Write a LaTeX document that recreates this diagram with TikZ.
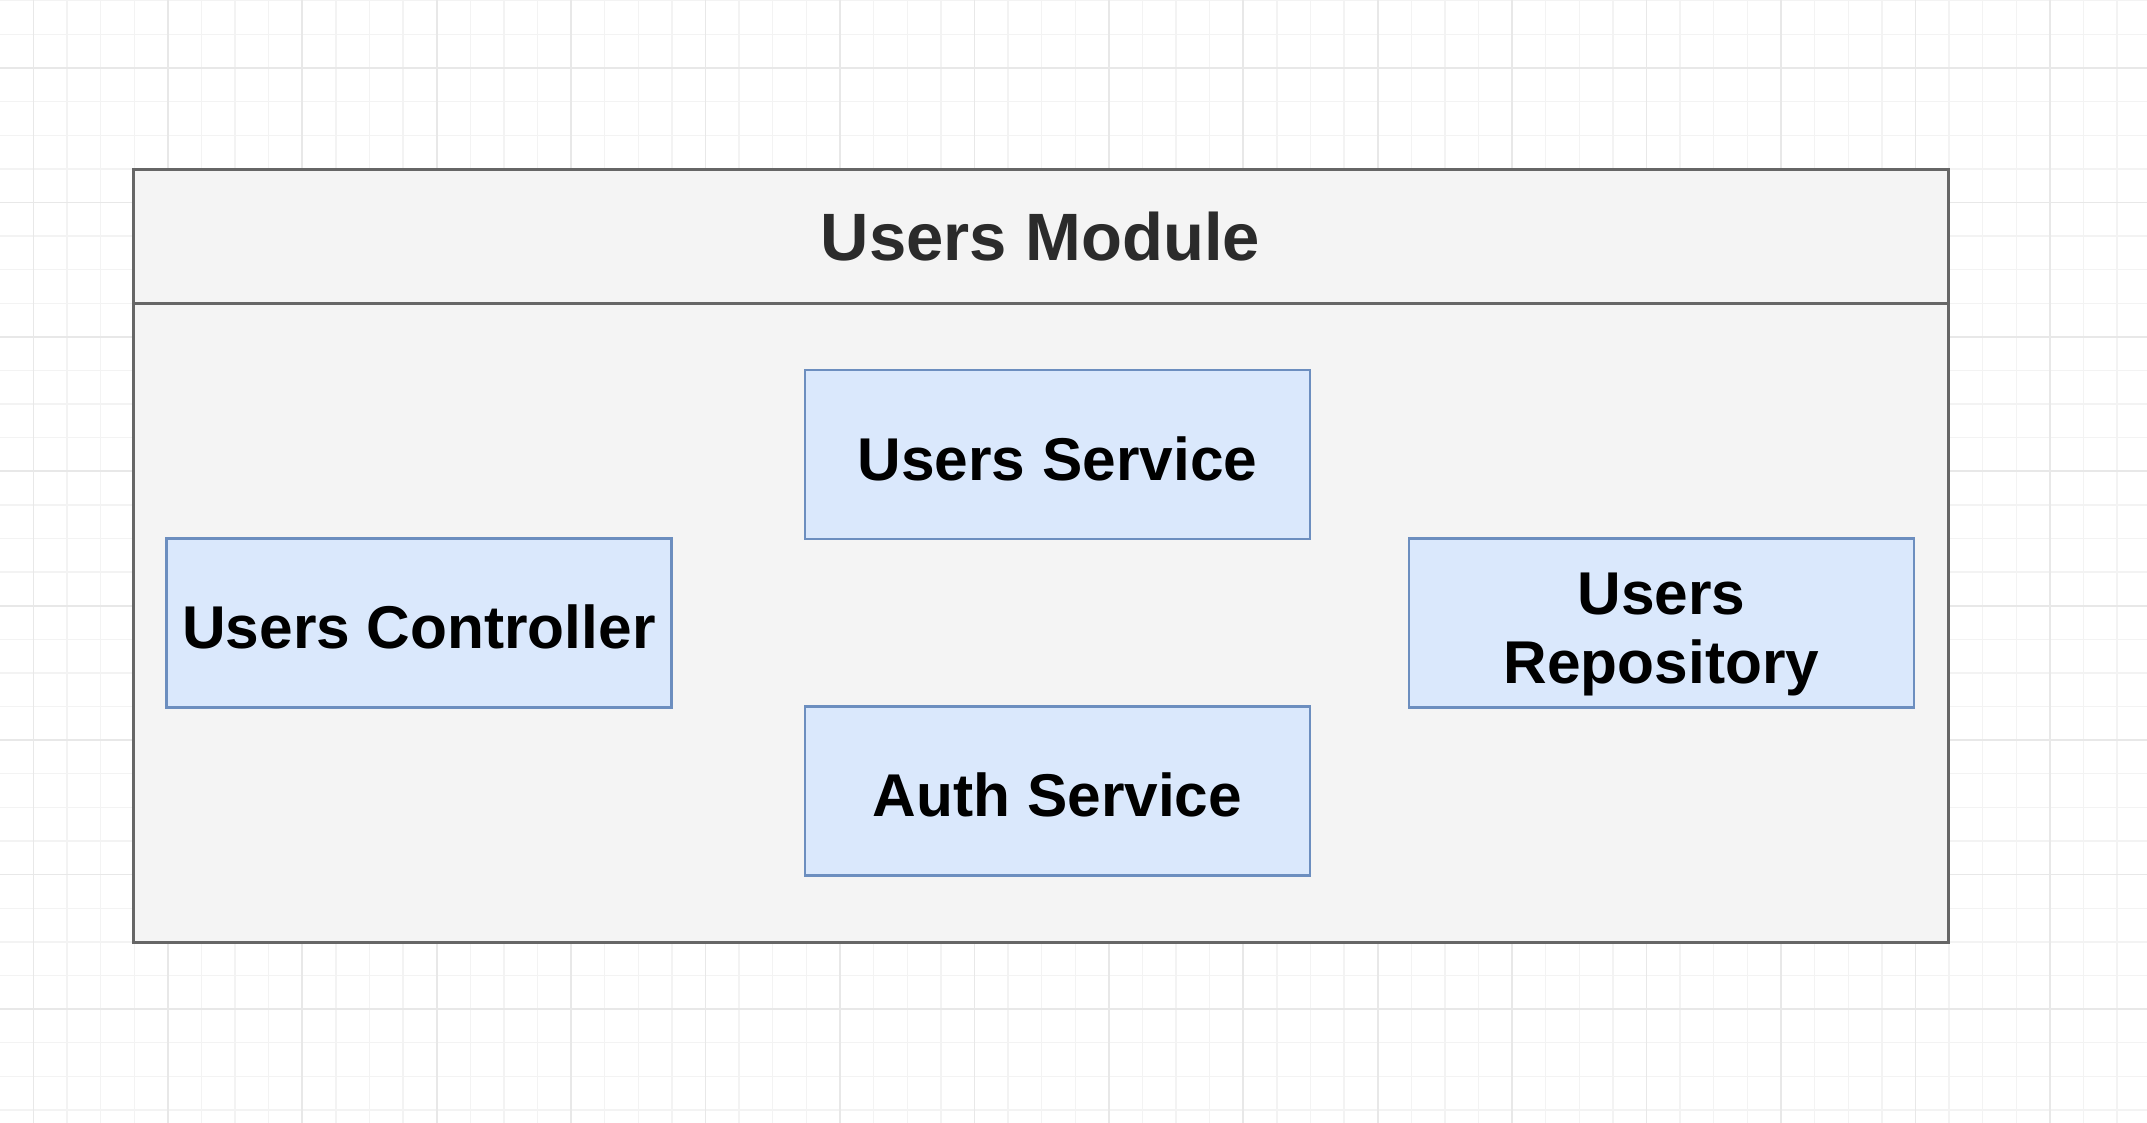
\documentclass[tikz,border=0pt]{standalone}
\usepackage{fontspec}
\setmainfont{Liberation Sans}
\begin{document}
\definecolor{gridminor}{HTML}{F3F3F3}
\definecolor{gridmajor}{HTML}{E8E8E8}
\definecolor{modfill}{HTML}{F4F4F4}
\definecolor{moddraw}{HTML}{666666}
\definecolor{compfill}{HTML}{DAE8FC}
\definecolor{compdraw}{HTML}{6C8EBF}
\definecolor{titletext}{HTML}{2B2B2B}
\begin{tikzpicture}[x=0.5pt,y=-0.5pt,
  component/.style={draw=compdraw,fill=compfill,line width=1.1pt,
    minimum width=252.5pt,minimum height=84.5pt,inner sep=0pt,
    align=center,text=black,text height=25.5pt,text depth=0pt,
    font=\fontsize{30.2pt}{34.5pt}\selectfont\bfseries},
  twoline/.style={text height=60pt,text depth=0pt},
  module/.style={draw=moddraw,fill=modfill,line width=1.5pt,
    minimum width=907.5pt,minimum height=386pt,inner sep=0pt},
  header/.style={text=titletext,inner sep=0pt,
    font=\fontsize{33.5pt}{38pt}\selectfont\bfseries}]
\useasboundingbox[fill=white] (0,0) rectangle (2147,1123);
% background grid
\foreach \k in {-1,...,64} {
  \draw[gridminor,line width=0.7pt] ({33.4+33.6075*\k},0) -- ({33.4+33.6075*\k},1123);
}
\foreach \k in {0,...,34} {
  \draw[gridminor,line width=0.7pt] (0,{0.8+33.6075*\k}) -- (2147,{0.8+33.6075*\k});
}
\foreach \k in {0,...,16} {
  \draw[gridmajor,line width=0.9pt] ({33.4+134.43*\k},0) -- ({33.4+134.43*\k},1123);
}
\foreach \k in {-1,...,8} {
  \draw[gridmajor,line width=0.9pt] (0,{68+134.43*\k}) -- (2147,{68+134.43*\k});
}
% module container
\node[module] (mod) at (1040.5,556) {};
\coordinate (hl) at (133,304);
\coordinate (hr) at (1948,304);
\draw[moddraw,line width=1.5pt] (hl) -- (hr);
\node[header] (title) at (1040.5,237) {Users Module};
% components
\node[component] (svc)  at (1057.5,454.5) {Users Service};
\node[component] (ctrl) at (419,623)      {Users Controller};
\node[component,twoline] (repo) at (1661.5,623) {Users\\Repository};
\node[component] (auth) at (1057.5,791)   {Auth Service};
\end{tikzpicture}
\end{document}
